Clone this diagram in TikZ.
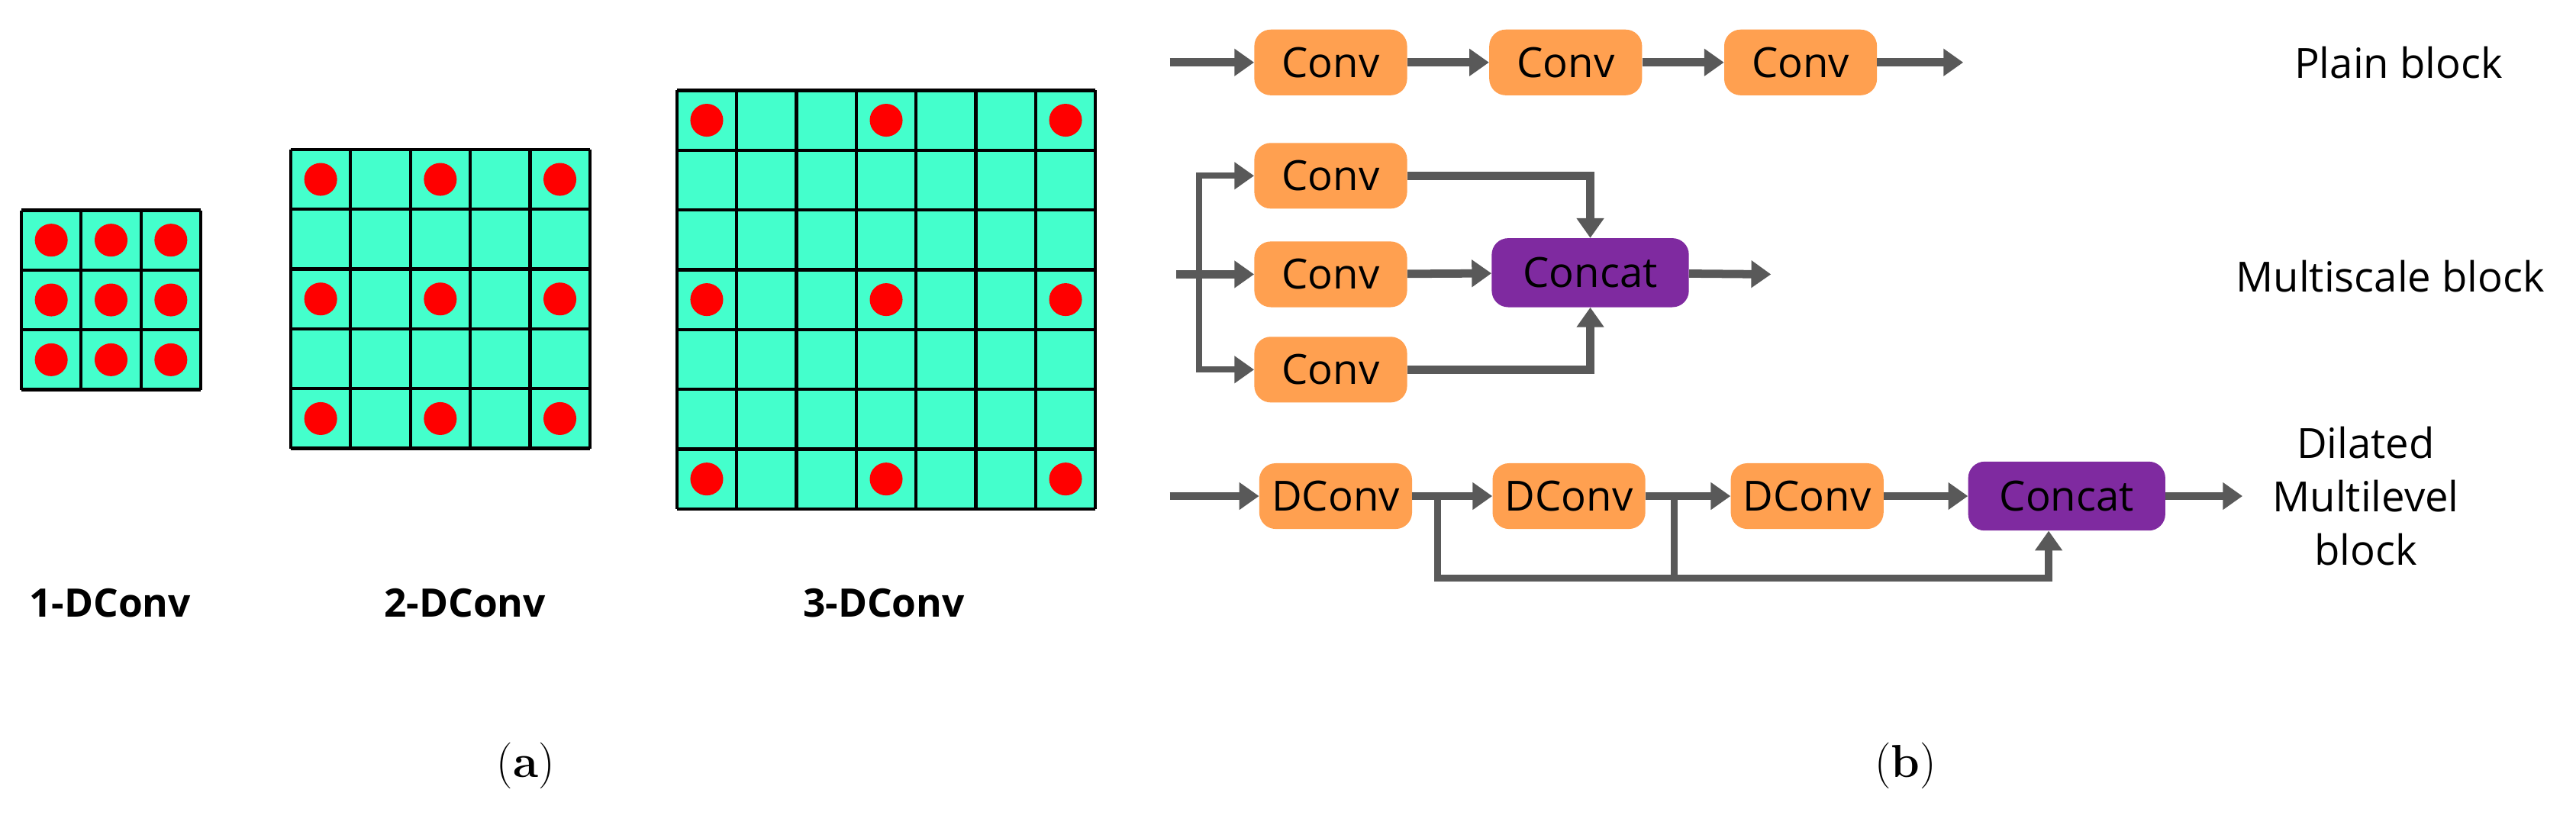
\documentclass[tikz,border=0pt]{standalone}
\usepackage{fontspec}
\setsansfont{Open Sans}
\usetikzlibrary{arrows.meta, positioning}
\definecolor{cellcol}{RGB}{68,255,204}
\definecolor{convcol}{RGB}{255,160,80}
\definecolor{catcol}{RGB}{127,42,160}
\definecolor{flowcol}{RGB}{89,89,89}
\tikzset{
  conv/.style={fill=convcol, rounded corners=0.5cm, minimum width=4.65cm, minimum height=2cm, inner sep=0pt, font=\sffamily\fontsize{36}{40}\selectfont},
  concat/.style={conv, fill=catcol, minimum width=6cm, minimum height=2.1cm},
  flow/.style={draw=flowcol, line width=0.25cm, -{Triangle[length=0.6cm, width=0.8cm]}},
  line/.style={draw=flowcol, line width=0.22cm},
  lbl/.style={font=\sffamily\fontsize{36}{46}\selectfont, align=center},
  kcap/.style={font=\sffamily\bfseries\fontsize{34}{40}\selectfont},
  dot/.style={fill=red, draw=none}
}
\begin{document}
\begin{tikzpicture}[x=0.05cm, y=-0.05cm]
\useasboundingbox (0,0) rectangle (1568,501.8);

% dilated kernels
\foreach \x/\y/\n/\s in {13/128/3/1, 177/91/5/2, 412/55/7/3} {
  \pgfmathsetmacro{\w}{\n*36.4}
  \fill[cellcol] (\x,\y) rectangle ++(\w,\w);
  \foreach \i in {0,...,\n} {
    \draw[line width=0.1cm] (\x+\i*36.4,\y) -- ++(0,\w);
    \draw[line width=0.1cm] (\x,\y+\i*36.4) -- ++(\w,0);
  }
  \foreach \r in {0,\s,...,\numexpr\n-1\relax}
    \foreach \c in {0,\s,...,\numexpr\n-1\relax}
      \fill[dot] (\x+\c*36.4+18.2,\y+\r*36.4+18.2) circle (10);
}
\node[kcap] (k1) at (67,367) {1-DConv};
\node[kcap] (k2) at (283,367) {2-DConv};
\node[kcap] (k3) at (538,367) {3-DConv};

% plain block
\coordinate (in1) at (712,38);
\coordinate (out1) at (1195,38);
\node[conv] (p1) at (810,38) {Conv};
\node[conv] (p2) at (953,38) {Conv};
\node[conv] (p3) at (1096,38) {Conv};
\draw[flow] (in1) -- (p1);
\draw[flow] (p1) -- (p2);
\draw[flow] (p2) -- (p3);
\draw[flow] (p3) -- (out1);
\node[lbl] (t1) at (1460,38) {Plain block};

% multiscale block
\coordinate (in2) at (716,167);
\coordinate (sp) at (730,167);
\coordinate (out2) at (1078,167);
\node[conv] (m1) at (810,107) {Conv};
\node[conv] (m2) at (810,167) {Conv};
\node[conv] (m3) at (810,225) {Conv};
\node[concat] (cc2) at (968,166) {Concat};
\draw[flow] (in2) -- (m2);
\draw[flow, line width=0.18cm] (sp) |- (m1);
\draw[flow, line width=0.18cm] (sp) |- (m3);
\draw[flow] (m1) -| (cc2);
\draw[flow] (m3) -| (cc2);
\draw[flow] (m2) -- (cc2);
\draw[flow] (cc2) -- (out2);
\node[lbl] (t2) at (1455,168) {Multiscale block};

% dilated multilevel block
\coordinate (in3) at (712,302);
\coordinate (out3) at (1365,302);
\node[conv] (d1) at (813,302) {DConv};
\node[conv] (d2) at (955,302) {DConv};
\node[conv] (d3) at (1100,302) {DConv};
\node[concat] (cc3) at (1258,302) {Concat};
\coordinate (b1) at (875,302);
\coordinate (b2) at (1019,302);
\draw[flow] (in3) -- (d1);
\draw[flow] (d1) -- (d2);
\draw[flow] (d2) -- (d3);
\draw[flow] (d3) -- (cc3);
\draw[flow] (cc3) -- (out3);
\draw[flow, line width=0.22cm] (b1) -- ++(0,50) -| ([xshift=-0.55cm]cc3.south);
\draw[line] (b2) -- ++(0,50);
\node[lbl] (t3) at (1440,302) {Dilated\\Multilevel\\block};

% panel captions
\node[font=\fontsize{40}{48}\selectfont] (ca) at (320,466) {(\textbf{a})};
\node[font=\fontsize{40}{48}\selectfont] (cb) at (1160,466) {(\textbf{b})};
\end{tikzpicture}
\end{document}
